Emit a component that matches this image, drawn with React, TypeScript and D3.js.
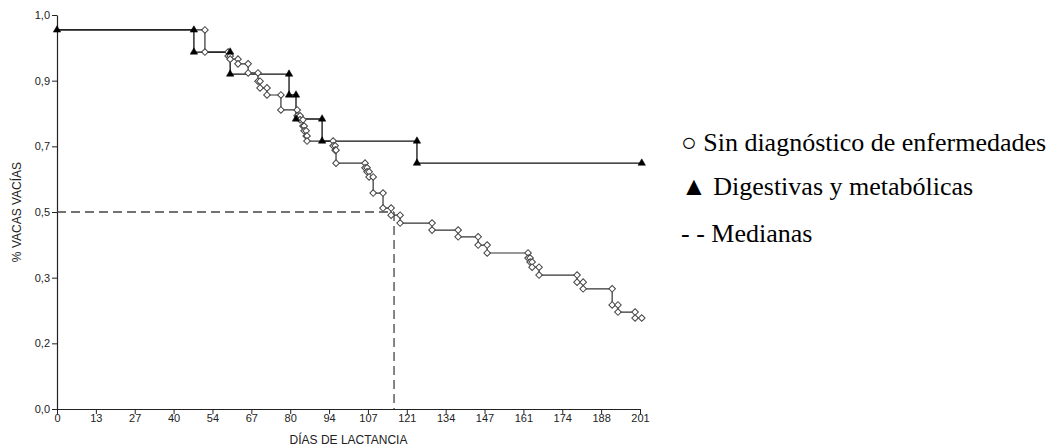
import React, { useEffect, useRef } from "react";
import * as d3 from "d3";

const xTickLabels = ["0","13","27","40","54","67","80","94","107","121","134","147","161","174","188","201"];
const yTickLabels = ["0,0","0,2","0,3","0,5","0,7","0,9","1,0"];

const startSurv = 0.962;
const endDay = 201.6;

// Sin diagnóstico de enfermedades: step times (days) and survival after each step
const sinDiagDays = [51.0,59.0,59.7,62.4,65.9,69.3,70.0,72.4,77.2,82.8,83.8,84.8,85.2,85.9,86.2,95.2,95.9,96.2,106.2,106.9,107.6,109.0,112.4,115.2,118.3,129.3,138.3,145.2,148.3,162.4,163.1,163.8,166.2,179.3,181.4,191.4,193.4,199.3];
const sinDiagSurv = [0.906,0.896,0.888,0.876,0.853,0.832,0.815,0.797,0.759,0.744,0.734,0.718,0.706,0.693,0.680,0.668,0.657,0.624,0.612,0.602,0.589,0.548,0.510,0.492,0.472,0.454,0.437,0.416,0.396,0.383,0.373,0.360,0.340,0.322,0.305,0.264,0.246,0.231];

// Digestivas y metabólicas
const digDays = [47.2,59.7,80.0,82.4,91.4,124.1];
const digSurv = [0.906,0.850,0.797,0.736,0.680,0.624];

const medianDay = 116.2;
const medianSurv = 0.5;

const legendLabels = ["○ Sin diagnóstico de enfermedades", "▲ Digestivas y metabólicas", "- - Medianas"];

const W = 1055, H = 446;

export default function App() {
  const ref = useRef<SVGSVGElement>(null);
  useEffect(() => {
    const svg = d3.select(ref.current);
    svg.selectAll("*").remove();
    const x = d3.scaleLinear().domain([0, 201]).range([57, 640]);
    const y = d3.scaleLinear().domain([0, 1]).range([409, 15]);

    svg.append("rect").attr("width", W).attr("height", H).attr("fill", "#fff");

    // axes
    const xTicks = xTickLabels.map((_, i) => (i * 201) / 15);
    const yTicks = yTickLabels.map((_, i) => i / 6);
    const xAxis = d3.axisBottom(x).tickValues(xTicks).tickSize(5).tickSizeOuter(0)
      .tickFormat((_, i) => xTickLabels[i]);
    const yAxis = d3.axisLeft(y).tickValues(yTicks).tickSize(5).tickSizeOuter(0)
      .tickFormat((_, i) => yTickLabels[i]);
    const gx = svg.append("g").attr("transform", `translate(0,${y(0)})`).call(xAxis);
    const gy = svg.append("g").attr("transform", `translate(${x(0)},0)`).call(yAxis);
    [gx, gy].forEach((g) => {
      g.selectAll("path").attr("stroke", "#222").attr("stroke-width", 1.2);
      g.selectAll("line").attr("stroke", "#222");
      g.selectAll("text").attr("font-family", "Liberation Sans, Arial, sans-serif")
        .attr("font-size", 11).attr("fill", "#222");
    });
    gx.selectAll("text").attr("dy", "0.6em").attr("y", 6);
    gy.selectAll("text").attr("x", -7);

    svg.append("text").attr("x", (x(0) + x(201)) / 2).attr("y", 444)
      .attr("text-anchor", "middle").attr("font-family", "Liberation Sans, Arial, sans-serif")
      .attr("font-size", 12).attr("fill", "#222").text("DÍAS DE LACTANCIA");
    svg.append("text").attr("transform", `translate(21,${(y(0) + y(1)) / 2}) rotate(-90)`)
      .attr("text-anchor", "middle").attr("font-family", "Liberation Sans, Arial, sans-serif")
      .attr("font-size", 12).attr("fill", "#222").text("% VACAS VACÍAS");

    // median dashed lines
    const dash = "9,5";
    svg.append("line").attr("x1", x(0)).attr("x2", x(medianDay)).attr("y1", y(medianSurv)).attr("y2", y(medianSurv))
      .attr("stroke", "#444").attr("stroke-width", 1.3).attr("stroke-dasharray", dash);
    svg.append("line").attr("x1", x(medianDay)).attr("x2", x(medianDay)).attr("y1", y(medianSurv)).attr("y2", y(0))
      .attr("stroke", "#444").attr("stroke-width", 1.3).attr("stroke-dasharray", dash);

    const line = d3.line<[number, number]>().x((d) => x(d[0])).y((d) => y(d[1])).curve(d3.curveStepAfter);

    const buildPts = (days: number[], surv: number[]) => {
      const pts: [number, number][] = [[0, startSurv]];
      days.forEach((d, i) => pts.push([d, surv[i]]));
      pts.push([endDay, surv[surv.length - 1]]);
      return pts;
    };
    const buildMarks = (days: number[], surv: number[], withStart: boolean) => {
      const m: [number, number][] = withStart ? [[0, startSurv]] : [];
      days.forEach((d, i) => {
        m.push([d, i === 0 ? startSurv : surv[i - 1]]);
        m.push([d, surv[i]]);
      });
      m.push([endDay, surv[surv.length - 1]]);
      return m;
    };

    const sinPts = buildPts(sinDiagDays, sinDiagSurv);
    const digPts = buildPts(digDays, digSurv);

    svg.append("path").attr("d", line(sinPts)!).attr("fill", "none").attr("stroke", "#333").attr("stroke-width", 1.2);
    svg.append("path").attr("d", line(digPts)!).attr("fill", "none").attr("stroke", "#111").attr("stroke-width", 1.3);

    const diamond = d3.symbol().type(d3.symbolSquare).size(22)();
    svg.append("g").selectAll("path").data(buildMarks(sinDiagDays, sinDiagSurv, false)).join("path")
      .attr("d", diamond!).attr("transform", (d) => `translate(${x(d[0])},${y(d[1])}) rotate(45)`)
      .attr("fill", "#fff").attr("stroke", "#444").attr("stroke-width", 1);

    const tri = d3.symbol().type(d3.symbolTriangle).size(24)();
    svg.append("g").selectAll("path").data(buildMarks(digDays, digSurv, true)).join("path")
      .attr("d", tri!).attr("transform", (d) => `translate(${x(d[0])},${y(d[1])})`)
      .attr("fill", "#000").attr("stroke", "#000").attr("stroke-width", 0.5);

    // legend
    const baselines = [151, 195, 242];
    svg.append("g").selectAll("text").data(legendLabels).join("text")
      .attr("x", 681).attr("y", (_, i) => baselines[i])
      .attr("font-family", "Liberation Serif, 'Times New Roman', serif").attr("font-size", 26)
      .attr("fill", "#000").text((d) => d);
  }, []);
  return (
    <svg ref={ref} width={W} height={H} style={{ position: "absolute", left: 0, top: 0 }} />
  );
}
